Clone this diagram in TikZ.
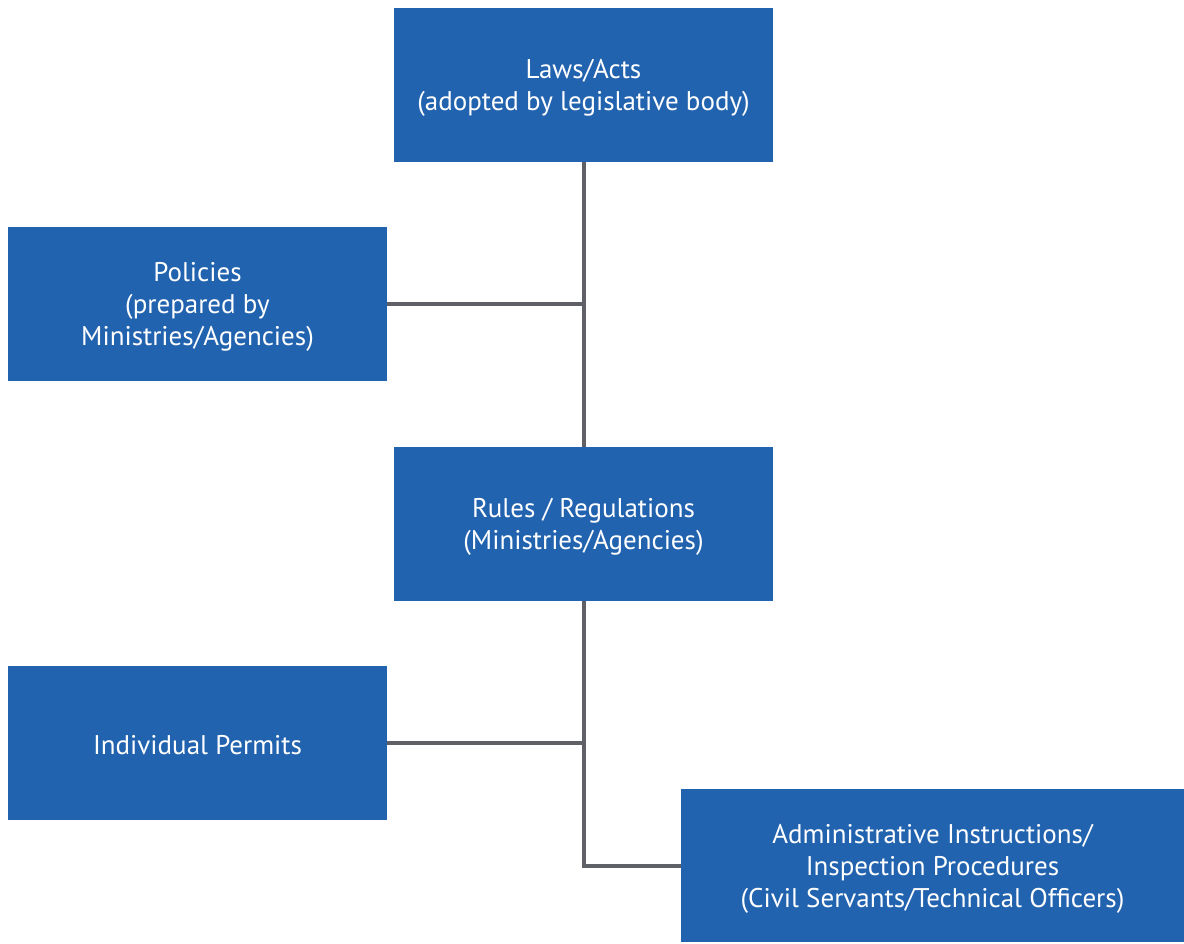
\documentclass[tikz,border=0pt]{standalone}
\usepackage{fontspec}
\setmainfont{PT Sans}
\definecolor{boxblue}{HTML}{2263AF}
\definecolor{linkgrey}{HTML}{606067}
\tikzset{
  orgbox/.style={fill=boxblue, inner sep=0pt,
    minimum width=379pt, minimum height=154pt},
  boxtext/.style={text=white, align=center, inner sep=0pt, yshift=-3pt,
    font=\fontsize{27}{32}\selectfont},
  link/.style={draw=linkgrey, line width=4pt}
}
\begin{document}
\begin{tikzpicture}[x=1pt,y=-1pt]
  \useasboundingbox[fill=white] (0,0) rectangle (1184,943);
  \node[orgbox, label={[boxtext]center:Laws/Acts\\(adopted by legislative body)}]
    (laws) at (583.5,85) {};
  \node[orgbox, label={[boxtext]center:Policies\\(prepared by\\Ministries/Agencies)}]
    (policies) at (197.5,304) {};
  \node[orgbox, label={[boxtext]center:Rules / Regulations\\(Ministries/Agencies)}]
    (rules) at (583.5,524) {};
  \node[orgbox, label={[boxtext, yshift=1pt]center:Individual Permits}]
    (permits) at (197.5,743) {};
  \node[orgbox, minimum width=503pt, minimum height=153pt,
    label={[boxtext]center:Administrative Instructions/\\Inspection Procedures\\(Civil Servants/Technical Officers)}]
    (admin) at (932.5,865.5) {};
  \coordinate (bend) at (rules.south |- admin.west);
  \draw[link] (laws.south) -- (rules.north);
  \draw[link] (policies.east) -- (policies.east -| laws.south);
  \draw[link] (rules.south) -- (bend) -- (admin.west);
  \draw[link] (permits.east) -- (permits.east -| rules.south);
\end{tikzpicture}
\end{document}
